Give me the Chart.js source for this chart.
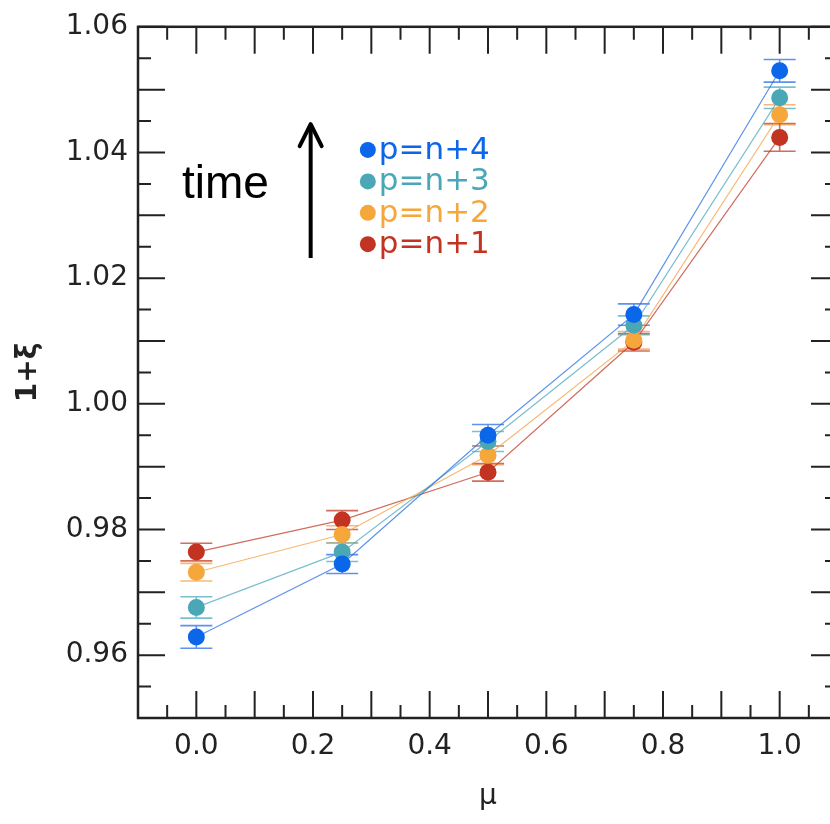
<!DOCTYPE html>
<html lang="en">

<head>
    <meta charset="UTF-8">
    <title>1+xi vs mu</title>
    <script src="https://cdn.jsdelivr.net/npm/chart.js"></script>
    <style>
        html, body { margin: 0; padding: 0; background: #fff; overflow: hidden; }
        .grafico { width: 860px; height: 824px; }
    </style>
</head>

<body>
    <div class="grafico">
        <canvas id="linhas"></canvas>
    </div>
</body>

</html>
<script>
    // data
    const mu = [0.0, 0.25, 0.5, 0.75, 1.0];
    const seriesNames = ['p=n+4', 'p=n+3', 'p=n+2', 'p=n+1'];
    const seriesColors = ['#0b66ea', '#4aa7b6', '#f6a73c', '#c23322'];
    const lineColors = ['rgba(40,110,230,0.75)', 'rgba(80,170,190,0.75)', 'rgba(245,160,70,0.75)', 'rgba(195,60,40,0.75)'];

    const pn4 = [0.9629, 0.9745, 0.9950, 1.0142, 1.0530];
    const pn3 = [0.9676, 0.9764, 0.9940, 1.0125, 1.0487];
    const pn2 = [0.9732, 0.9792, 0.9918, 1.0101, 1.0460];
    const pn1 = [0.9764, 0.9815, 0.9891, 1.0098, 1.0424];

    const err4 = [0.0018, 0.0015, 0.0017, 0.0017, 0.0018];
    const err3 = [0.0017, 0.0015, 0.0016, 0.0015, 0.0017];
    const err2 = [0.0014, 0.0014, 0.0015, 0.0014, 0.0016];
    const err1 = [0.0014, 0.0015, 0.0014, 0.0014, 0.0022];

    const xTickLabels = [0.0, 0.2, 0.4, 0.6, 0.8, 1.0];
    const yTickLabels = [0.96, 0.98, 1.00, 1.02, 1.04, 1.06];

    const valores = [pn4, pn3, pn2, pn1];
    const erros = [err4, err3, err2, err1];

    // annotation anchors in data units
    const timeLabel = { x: 0.05, y: 1.0347 };
    const arrow = { x: 0.196, from: 1.0232, to: 1.0445 };
    const legendPos = { x: 0.294, y: 1.0404, step: 0.0050 };

    const fonte = '"DejaVu Sans", Verdana, sans-serif';
    const fonteTime = '"Liberation Sans", Arial, Helvetica, sans-serif';

    const datasets = valores.map((serie, i) => ({
        label: seriesNames[i],
        data: serie.map((v, j) => ({ x: mu[j], y: v })),
        borderColor: lineColors[i],
        backgroundColor: seriesColors[i],
        pointBackgroundColor: seriesColors[i],
        pointBorderWidth: 0,
        pointRadius: 8.5,
        borderWidth: 1.2,
        showLine: true,
        order: i
    }));

    const moldura = {
        id: 'moldura',
        beforeDatasetsDraw(chart) {
            const ctx = chart.ctx;
            const xs = chart.scales.x, ys = chart.scales.y;
            ctx.save();
            // error bars
            valores.forEach((serie, i) => {
                ctx.strokeStyle = lineColors[i];
                ctx.lineWidth = 1.6;
                serie.forEach((v, j) => {
                    const px = xs.getPixelForValue(mu[j]);
                    const top = ys.getPixelForValue(v + erros[i][j]);
                    const bot = ys.getPixelForValue(v - erros[i][j]);
                    ctx.beginPath();
                    ctx.moveTo(px, top); ctx.lineTo(px, bot);
                    ctx.moveTo(px - 16, top); ctx.lineTo(px + 16, top);
                    ctx.moveTo(px - 16, bot); ctx.lineTo(px + 16, bot);
                    ctx.stroke();
                });
            });
            ctx.restore();
        },
        afterDraw(chart) {
            const ctx = chart.ctx;
            const a = chart.chartArea;
            const xs = chart.scales.x, ys = chart.scales.y;
            ctx.save();
            ctx.strokeStyle = '#222';
            ctx.lineWidth = 2.5;
            ctx.strokeRect(a.left, a.top, a.right - a.left, a.bottom - a.top);

            // inward ticks
            ctx.lineWidth = 2;
            for (let k = -2; k <= 22; k++) {
                const v = k * 0.05;
                if (v < xs.min - 1e-9 || v > xs.max + 1e-9) continue;
                const px = xs.getPixelForValue(v);
                const len = k % 2 === 0 ? 27 : 13;
                ctx.beginPath();
                ctx.moveTo(px, a.bottom); ctx.lineTo(px, a.bottom - len);
                ctx.moveTo(px, a.top); ctx.lineTo(px, a.top + len);
                ctx.stroke();
            }
            for (let k = 190; k <= 212; k++) {
                const v = k * 0.005;
                if (v < ys.min - 1e-9 || v > ys.max + 1e-9) continue;
                const py = ys.getPixelForValue(v);
                const len = k % 2 === 0 ? 27 : 13;
                ctx.beginPath();
                ctx.moveTo(a.left, py); ctx.lineTo(a.left + len, py);
                ctx.moveTo(a.right, py); ctx.lineTo(a.right - len, py);
                ctx.stroke();
            }

            // "time" and arrow
            ctx.fillStyle = '#000';
            ctx.font = '46px ' + fonteTime;
            ctx.textAlign = 'center';
            ctx.textBaseline = 'middle';
            ctx.fillText('time', xs.getPixelForValue(timeLabel.x), ys.getPixelForValue(timeLabel.y));

            const ax = xs.getPixelForValue(arrow.x);
            const ay0 = ys.getPixelForValue(arrow.from);
            const ay1 = ys.getPixelForValue(arrow.to);
            ctx.strokeStyle = '#000';
            ctx.lineWidth = 4;
            ctx.beginPath();
            ctx.moveTo(ax, ay0); ctx.lineTo(ax, ay1 + 2);
            ctx.stroke();
            ctx.lineCap = 'round';
            ctx.lineJoin = 'round';
            ctx.beginPath();
            ctx.moveTo(ax - 11, ay1 + 22); ctx.lineTo(ax, ay1); ctx.lineTo(ax + 11, ay1 + 22);
            ctx.stroke();

            // legend
            ctx.font = '31px ' + fonte;
            ctx.textAlign = 'left';
            seriesNames.forEach((nome, i) => {
                const lx = xs.getPixelForValue(legendPos.x);
                const ly = ys.getPixelForValue(legendPos.y - i * legendPos.step);
                ctx.fillStyle = seriesColors[i];
                ctx.beginPath();
                ctx.arc(lx, ly, 8, 0, Math.PI * 2);
                ctx.fill();
                ctx.fillText(nome, lx + 11, ly + 1);
            });
            ctx.restore();
        }
    };

    new Chart(document.getElementById('linhas'), {
        type: 'scatter',
        data: { datasets: datasets },
        options: {
            responsive: true,
            maintainAspectRatio: false,
            animation: false,
            layout: { padding: { left: 0, top: 23, right: 22, bottom: 0 } },
            plugins: {
                legend: { display: false },
                tooltip: { enabled: false }
            },
            scales: {
                x: {
                    type: 'linear',
                    min: -0.1,
                    max: 1.1,
                    grid: { display: false, drawTicks: false },
                    border: { display: false },
                    afterFit: s => { s.height = 106; },
                    afterBuildTicks: s => { s.ticks = xTickLabels.map(v => ({ value: v })); },
                    ticks: {
                        padding: 12,
                        color: '#222',
                        font: { family: fonte, size: 28 },
                        callback: v => v.toFixed(1)
                    },
                    title: {
                        display: true,
                        text: 'μ',
                        color: '#222',
                        font: { family: fonte, size: 28 },
                        padding: { top: 0, bottom: 10 }
                    }
                },
                y: {
                    type: 'linear',
                    min: 0.95,
                    max: 1.06,
                    grid: { display: false, drawTicks: false },
                    border: { display: false },
                    afterFit: s => { s.width = 138; },
                    afterBuildTicks: s => { s.ticks = yTickLabels.map(v => ({ value: v })); },
                    ticks: {
                        padding: 10,
                        color: '#222',
                        font: { family: fonte, size: 28 },
                        callback: v => v.toFixed(2)
                    },
                    title: {
                        display: true,
                        text: '1+ξ',
                        color: '#222',
                        font: { family: fonte, size: 28, weight: 'bold' },
                        padding: { top: 12, bottom: 0 }
                    }
                }
            }
        },
        plugins: [moldura]
    });
</script>
